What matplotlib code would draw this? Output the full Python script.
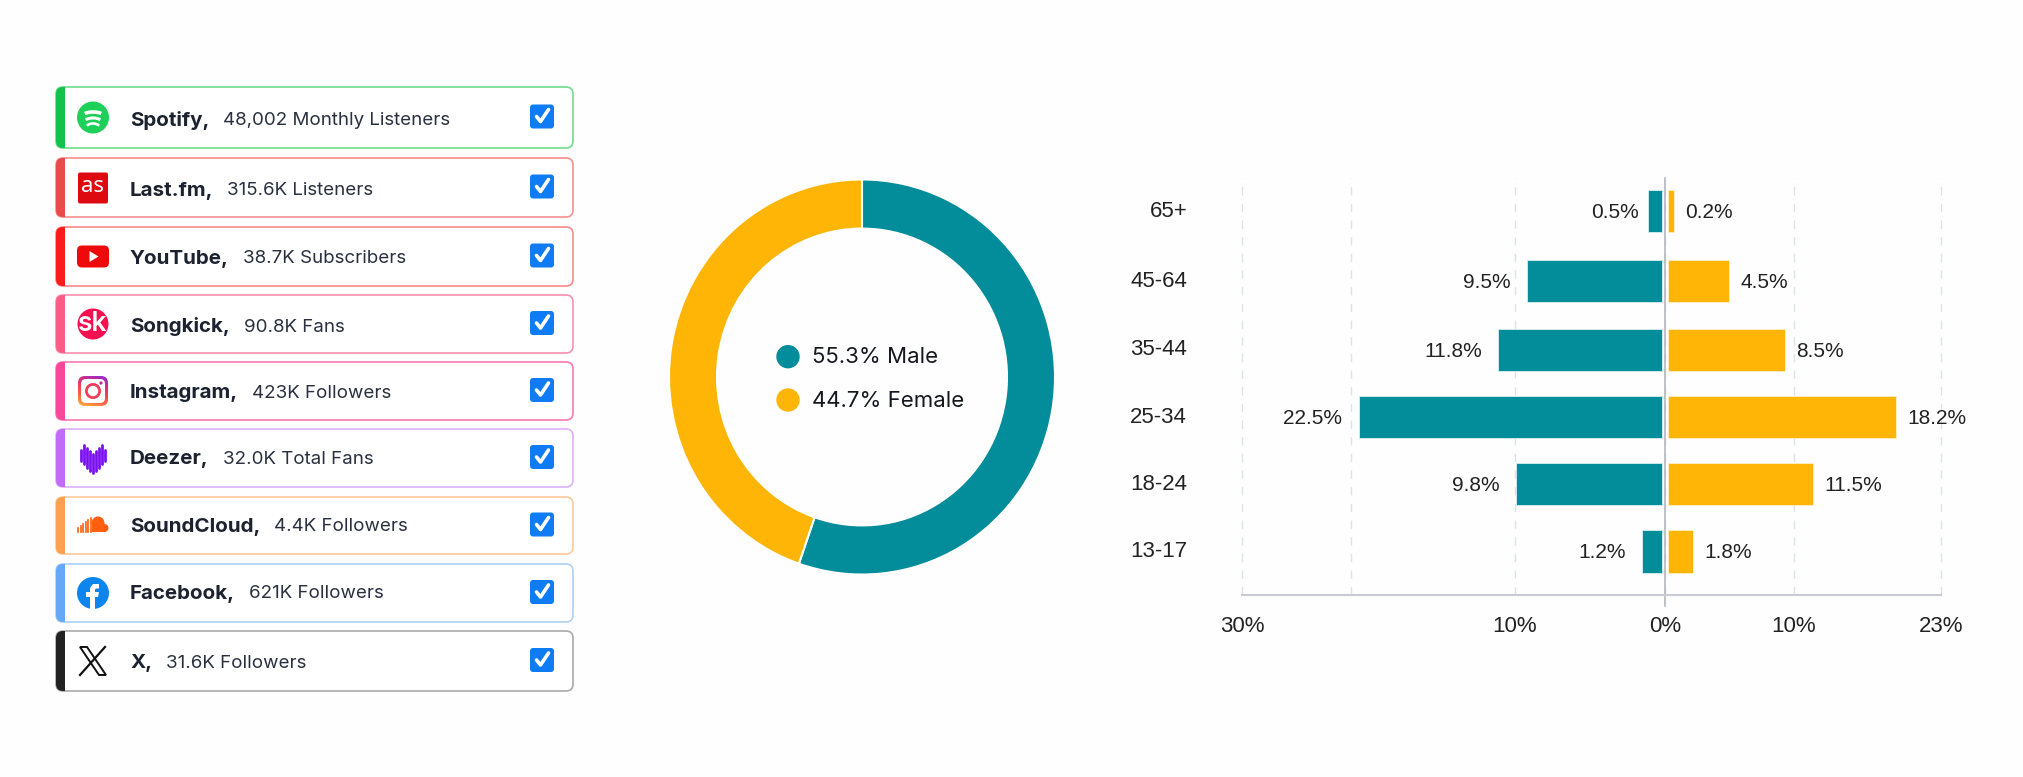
import matplotlib
matplotlib.use('Agg')
import matplotlib.pyplot as plt
from matplotlib.patches import FancyBboxPatch, Rectangle, Circle, Polygon, Arc
import numpy as np

# list panel
platforms = ['Spotify', 'Last.fm', 'YouTube', 'Songkick', 'Instagram', 'Deezer', 'SoundCloud', 'Facebook', 'X']
stats = ['48,002 Monthly Listeners', '315.6K Listeners', '38.7K Subscribers', '90.8K Fans',
         '423K Followers', '32.0K Total Fans', '4.4K Followers', '621K Followers', '31.6K Followers']

# donut
gender_names = ['Male', 'Female']
gender_share = [55.3, 44.7]

# pyramid, the bars in the picture are not quite to the printed numbers so both are kept
ages = ['13-17', '18-24', '25-34', '35-44', '45-64', '65+']
male_drawn = [1.5, 9.9, 20.4, 11.1, 9.2, 1.1]
female_drawn = [2.2, 11.5, 17.9, 9.3, 5.0, 0.7]
male_text = ['1.2%', '9.8%', '22.5%', '11.8%', '9.5%', '0.5%']
female_text = ['1.8%', '11.5%', '18.2%', '8.5%', '4.5%', '0.2%']
male_ticks = [28.2, 20.9, 10, 0]
male_tick_text = ['30%', '', '10%', '0%']
female_ticks = [10, 21.4]
female_tick_text = ['10%', '23%']

TEAL = '#038c99'
AMBER = '#ffb506'
NARROW = 'Liberation Sans'
W, H = 2024, 777

fig = plt.figure(figsize=(W / 100, H / 100), dpi=100, facecolor='#fefefe')


def px_axes(x0, y0, x1, y1):
    return fig.add_axes([x0 / W, 1 - y1 / H, (x1 - x0) / W, (y1 - y0) / H])


# overlay in pixel coordinates for the list and the donut legend
pan = fig.add_axes([0, 0, 1, 1])
pan.set_xlim(0, W)
pan.set_ylim(H, 0)
pan.axis('off')

box_top = [87, 158, 227, 295, 362, 429, 497, 564, 631]
box_bot = [148, 217, 286, 353, 420, 487, 554, 622, 691]
text_dy = [3, 3, 2, 3, 2, 1, 1, 1, 2]
border = ['#6fdc8c', '#f98f8f', '#fb8a8a', '#fb8fae', '#f97ab2', '#dfb0fa', '#fcca98', '#aed0fa', '#aaaaaa']
strip = ['#12c24a', '#e94b4b', '#fb1c1c', '#fb5c86', '#f9479a', '#c06cf8', '#fda050', '#66a8f8', '#222222']


def icon(i, cx, cy):
    if i == 0:
        pan.add_patch(Circle((cx, cy), 16, fc='#1ed05a', ec='none'))
        for dy, w, lw in [(-5, 22, 2.6), (1, 18, 2.2), (6.5, 14, 1.9)]:
            pan.add_patch(Arc((cx, cy + dy + 4), w, 9, theta1=200, theta2=340, color='white', lw=lw))
    elif i == 1:
        pan.add_patch(FancyBboxPatch((cx - 13, cy - 13), 26, 27, boxstyle='round,pad=2,rounding_size=2',
                                     fc='#dd0a10', ec='none'))
        pan.text(cx, cy - 1, 'as', color='white', fontsize=16, family='Noto Sans', ha='center', va='center')
    elif i == 2:
        pan.add_patch(FancyBboxPatch((cx - 13, cy - 8), 26, 16, boxstyle='round,pad=3,rounding_size=5',
                                     fc='#ee0a0a', ec='none'))
        pan.add_patch(Polygon([(cx - 3.5, cy - 5.5), (cx - 3.5, cy + 5.5), (cx + 5.5, cy)], fc='white'))
    elif i == 3:
        pan.add_patch(Circle((cx, cy), 15.5, fc='#f6104f', ec='none'))
        pan.text(cx, cy, 'sk', color='white', fontsize=19, family='Inter', weight='semibold',
                 ha='center', va='center')
    elif i == 4:
        box = FancyBboxPatch((cx - 13, cy - 13), 26, 26, boxstyle='round,pad=2,rounding_size=7',
                             fc='none', ec='none')
        pan.add_patch(box)
        rows = np.linspace(0, 1, 64)[:, None]
        cols = np.linspace(0, 1, 64)[None, :]
        cmap = matplotlib.colors.LinearSegmentedColormap.from_list(
            'ig', ['#8a2be2', '#e1306c', '#fd5949', '#ffb13b'])
        im = pan.imshow(0.75 * rows + 0.25 * (1 - cols), cmap=cmap, extent=(cx - 15, cx + 15, cy + 15, cy - 15),
                        aspect='auto', zorder=2)
        im.set_clip_path(box)
        pan.add_patch(FancyBboxPatch((cx - 11, cy - 11), 22, 22, boxstyle='round,pad=1,rounding_size=5',
                                     fc='white', ec='none', zorder=3))
        pan.add_patch(Circle((cx, cy), 6.6, fc='none', ec='#f0405a', lw=2, zorder=4))
        pan.add_patch(Circle((cx + 8, cy - 8), 1.6, fc='#c02a90', zorder=4))
        pan.set_xlim(0, W)
        pan.set_ylim(H, 0)
    elif i == 5:
        for k, (t, b) in enumerate([(-8, 3), (-13, 6), (-10, 10), (-7, 13), (-4, 15), (-7, 13), (-10, 10), (-13, 6), (-8, 3)]):
            pan.plot([cx - 12 + k * 3] * 2, [cy + t, cy + b], color='#7a10f0', lw=2, solid_capstyle='round')
    elif i == 6:
        for k, h in enumerate([4, 6, 8, 10, 12, 14]):
            pan.plot([cx - 15 + k * 2.6] * 2, [cy + 6.5 - h, cy + 6.5], color='#ff5f0f', lw=1.2)
        pan.add_patch(Circle((cx + 5, cy - 2.5), 6.5, fc='#ff5f0f', ec='none'))
        pan.add_patch(Circle((cx + 11.5, cy + 2.5), 4, fc='#ff5f0f', ec='none'))
        pan.add_patch(Rectangle((cx - 1, cy - 1), 12.5, 7.5, fc='#ff5f0f', ec='none'))
    elif i == 7:
        pan.add_patch(Circle((cx, cy), 16, fc='#0c86ee', ec='none'))
        pan.add_patch(Polygon([(cx - 3, cy + 16), (cx - 3, cy + 4), (cx - 7, cy + 4), (cx - 7, cy - 1), (cx - 3, cy - 1),
                               (cx - 3, cy - 5), (cx, cy - 9), (cx + 6, cy - 9), (cx + 6, cy - 4.5), (cx + 3, cy - 4.5),
                               (cx + 2, cy - 3.5), (cx + 2, cy - 1), (cx + 6, cy - 1), (cx + 5, cy + 4), (cx + 2, cy + 4),
                               (cx + 2, cy + 16)], fc='white', ec='none'))
    else:
        pan.plot([cx + 12, cx - 13], [cy - 14, cy + 14], color='#111111', lw=1.6)
        pan.add_patch(Polygon([(cx - 13, cy - 14), (cx - 6, cy - 14), (cx + 13, cy + 14), (cx + 6, cy + 14)],
                              fc='white', ec='#111111', lw=1.4))


renderer = fig.canvas.get_renderer()
for i, (name, stat) in enumerate(zip(platforms, stats)):
    top, bot = box_top[i], box_bot[i]
    box = FancyBboxPatch((56, top), 517, bot - top, boxstyle='round,pad=0,rounding_size=7',
                         fc='white', ec=border[i], lw=1.2)
    pan.add_patch(box)
    bar = Rectangle((55, top - 1), 10, bot - top + 2, fc=strip[i], ec='none', zorder=3)
    pan.add_patch(bar)
    bar.set_clip_path(box)
    cy = (top + bot) / 2
    icon(i, 93, cy)
    t = pan.text(130, cy + text_dy[i], name + ',', fontsize=14.8, family='Inter', weight='bold', color='#1c2230', va='center')
    x1 = t.get_window_extent(renderer).x1
    pan.text(x1 + 14, cy + text_dy[i], stat, fontsize=13.5, family='Inter', color='#2a3040', va='center')
    # checkbox
    pan.add_patch(FancyBboxPatch((532, cy - 11), 20, 20, boxstyle='round,pad=2,rounding_size=3', fc='#0f7bf5', ec='none'))
    pan.plot([536.5, 540.5, 548.5], [cy - 1, cy + 4, cy - 8], color='white', lw=2.6, solid_capstyle='round', solid_joinstyle='round')

# donut, slightly taller than wide in the picture
don = px_axes(862 - 200, 377 - 204.7, 862 + 200, 377 + 204.7)
don.pie(gender_share, colors=[TEAL, AMBER], startangle=90, counterclock=False, radius=193 / 200,
        wedgeprops=dict(width=48 / 200, edgecolor='white', linewidth=1.5))
don.set_xlim(-1, 1)
don.set_ylim(-1, 1)
don.set_aspect('auto')
don.patch.set_alpha(0)

for col, cy in zip([TEAL, AMBER], [356.7, 400]):
    pan.add_patch(Circle((788, cy), 11.7, fc=col, ec='none'))
for name, share, cy in zip(gender_names, gender_share, [357.5, 401]):
    fig.text(812 / W, 1 - cy / H, f'{share}% {name}', fontsize=16, family='Inter', color='#15181f', va='center')

# pyramid, one axes each side of the 0 line
ax_m = px_axes(1242, 178, 1665, 595)
ax_f = px_axes(1665, 178, 1941, 595)
ypos = [0, 0.99, 1.97, 2.96, 3.97, 5.0]
for ax in (ax_m, ax_f):
    ax.set_ylim(-0.639, 5.485)
    ax.patch.set_alpha(0)
    for s in ['top', 'left', 'right']:
        ax.spines[s].set_visible(False)
    ax.spines['bottom'].set_color('#c9cbd3')
    ax.spines['bottom'].set_linewidth(1.5)
    ax.tick_params(length=0, pad=15)
    ax.grid(axis='x', ls=(0, (6, 6)), color='#dfe1e8', lw=1)
    ax.set_axisbelow(True)
ax_m.set_xlim(28.2, 0)
ax_f.set_xlim(0, 21.4)

ax_m.barh(ypos, np.array(male_drawn) - 0.22, left=0.22, height=0.62, color=TEAL, edgecolor='#d8f0f0', linewidth=0.6)
ax_f.barh(ypos, np.array(female_drawn) - 0.22, left=0.22, height=0.62, color=AMBER, edgecolor='#fff0c8', linewidth=0.6)
for y, v, s in zip(ypos, male_drawn, male_text):
    ax_m.annotate(s, (v, y), xytext=(-7 if s == '0.5%' else -12, -1), textcoords='offset points', ha='right', va='center',
                  fontsize=15, family=NARROW, color='#222222')
for y, v, s in zip(ypos, female_drawn, female_text):
    ax_f.annotate(s, (v, y), xytext=(8, -1), textcoords='offset points', ha='left', va='center',
                  fontsize=15, family=NARROW, color='#222222')

ax_m.set_xticks(male_ticks, male_tick_text, fontsize=16, family=NARROW, color='#222222')
ax_f.set_xticks(female_ticks, female_tick_text, fontsize=16, family=NARROW, color='#222222')
ax_f.set_yticks([])
ax_m.set_yticks([])
for gl in ax_f.get_xgridlines() + ax_m.get_xgridlines():
    gl.set_clip_on(False)
for y, s in zip(ypos, ages):
    ax_m.annotate(s, (0, y), xycoords=('axes fraction', 'data'), xytext=(-39.5, 0), textcoords='offset points',
                  ha='right', va='center', fontsize=16, family=NARROW, color='#222222')

# 0 line runs a little past the axis
pan.set_zorder(0)
ax_m.set_zorder(2)
ax_f.set_zorder(2)
ax_m.plot([0, 0], [-0.8, 5.485], color='#b4b7c0', lw=1.2, clip_on=False, zorder=1)

fig.savefig('out.png', dpi=100, facecolor=fig.get_facecolor())
